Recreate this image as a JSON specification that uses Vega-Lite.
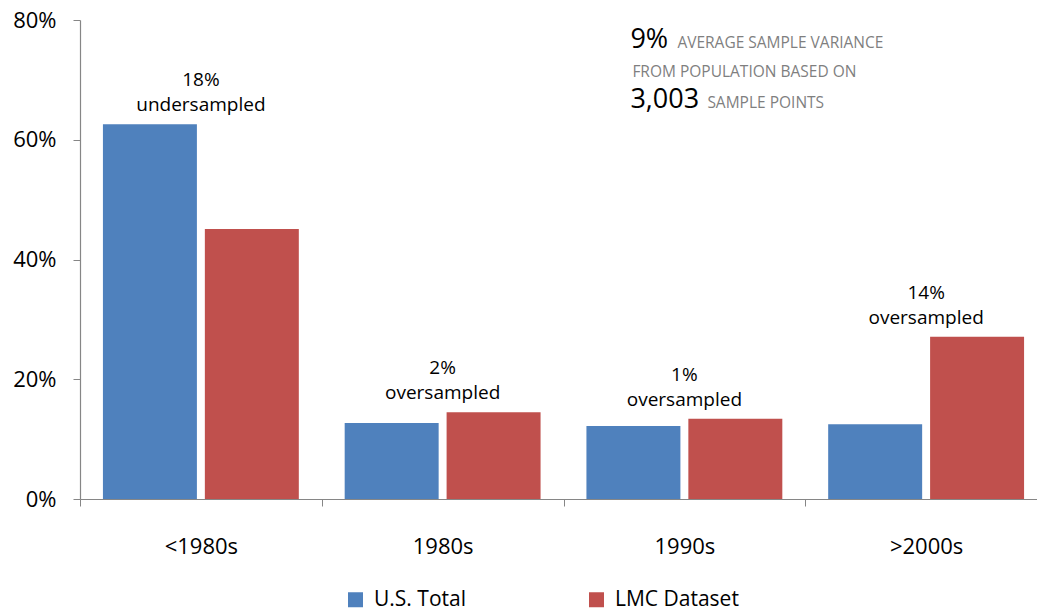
{
  "$schema": "https://vega.github.io/schema/vega-lite/v6.json",
  "width": 957,
  "height": 479,
  "autosize": {"type": "none"},
  "padding": {"left": 80, "top": 20, "right": 0, "bottom": 114},
  "background": "white",
  "config": {
    "view": {"stroke": null},
    "font": "Open Sans",
    "axis": {"labelFont": "Open Sans", "labelColor": "#000000", "domainColor": "#868686", "tickColor": "#868686", "grid": false, "title": null}
  },
  "datasets": {
    "bars": [
      {"era": "<1980s", "series": "U.S. Total", "share": 62.6},
      {"era": "<1980s", "series": "LMC Dataset", "share": 45.1},
      {"era": "1980s", "series": "U.S. Total", "share": 12.7},
      {"era": "1980s", "series": "LMC Dataset", "share": 14.5},
      {"era": "1990s", "series": "U.S. Total", "share": 12.2},
      {"era": "1990s", "series": "LMC Dataset", "share": 13.4},
      {"era": ">2000s", "series": "U.S. Total", "share": 12.5},
      {"era": ">2000s", "series": "LMC Dataset", "share": 27.1}
    ],
    "notes": [
      {"era": "<1980s", "top": 62.6, "label": "18%\nundersampled"},
      {"era": "1980s", "top": 14.5, "label": "2%\noversampled"},
      {"era": "1990s", "top": 13.4, "label": "1%\noversampled"},
      {"era": ">2000s", "top": 27.1, "label": "14%\noversampled"}
    ]
  },
  "layer": [
    {
      "data": {"name": "bars"},
      "mark": {"type": "bar"},
      "encoding": {
        "x": {
          "field": "era", "type": "nominal",
          "scale": {"domain": ["<1980s", "1980s", "1990s", ">2000s"], "range": [0, 967], "paddingInner": 0, "paddingOuter": 0},
          "axis": {"tickBand": "extent", "tickSize": 7, "labelFontSize": 22, "labelPadding": 30, "labelAngle": 0, "domainWidth": 1.2}
        },
        "xOffset": {
          "field": "series", "type": "nominal",
          "scale": {"domain": ["U.S. Total", "LMC Dataset"], "paddingInner": 0.078, "paddingOuter": 0.225}
        },
        "y": {
          "field": "share", "type": "quantitative",
          "scale": {"domain": [0, 80], "nice": false},
          "axis": {"values": [0, 20, 40, 60, 80], "labelExpr": "datum.value + '%'", "tickSize": 7, "labelFontSize": 22, "labelPadding": 17, "domainWidth": 1.2}
        },
        "color": {
          "field": "series", "type": "nominal",
          "scale": {"domain": ["U.S. Total", "LMC Dataset"], "range": ["#4F81BD", "#C0504D"]},
          "legend": {
            "orient": "none", "direction": "horizontal", "title": null,
            "legendX": 265, "legendY": 569, "padding": 0,
            "symbolType": "square", "symbolSize": 225, "symbolStrokeWidth": 0,
            "labelFont": "Open Sans", "labelFontSize": 21, "labelColor": "#000000", "labelOffset": 8,
            "columnPadding": 120, "labelLimit": 300
          }
        }
      }
    },
    {
      "data": {"name": "notes"},
      "mark": {"type": "text", "fontSize": 19, "lineBreak": "\n", "lineHeight": 25, "baseline": "bottom", "align": "center", "dy": -34, "color": "#000000"},
      "encoding": {
        "x": {"field": "era", "type": "nominal"},
        "y": {"field": "top", "type": "quantitative"},
        "text": {"field": "label"}
      }
    },
    {
      "data": {"values": [{"era": "1990s", "v": 75.3, "t": "9%"}, {"era": "1990s", "v": 65.3, "t": "3,003"}]},
      "mark": {"type": "text", "fontSize": 27, "align": "left", "baseline": "alphabetic", "dx": -54, "color": "#000000"},
      "encoding": {
        "x": {"field": "era", "type": "nominal"},
        "y": {"field": "v", "type": "quantitative"},
        "text": {"field": "t"}
      }
    },
    {
      "data": {"values": [{"era": "1990s", "v": 75.3, "t": "AVERAGE SAMPLE VARIANCE"}]},
      "mark": {"type": "text", "fontSize": 15.5, "align": "left", "baseline": "alphabetic", "dx": -7, "color": "#7F7F7F"},
      "encoding": {
        "x": {"field": "era", "type": "nominal"},
        "y": {"field": "v", "type": "quantitative"},
        "text": {"field": "t"}
      }
    },
    {
      "data": {"values": [{"era": "1990s", "v": 70.5, "t": "FROM POPULATION BASED ON"}]},
      "mark": {"type": "text", "fontSize": 15.5, "align": "left", "baseline": "alphabetic", "dx": -52, "color": "#7F7F7F"},
      "encoding": {
        "x": {"field": "era", "type": "nominal"},
        "y": {"field": "v", "type": "quantitative"},
        "text": {"field": "t"}
      }
    },
    {
      "data": {"values": [{"era": "1990s", "v": 65.3, "t": "SAMPLE POINTS"}]},
      "mark": {"type": "text", "fontSize": 15.5, "align": "left", "baseline": "alphabetic", "dx": 23, "color": "#7F7F7F"},
      "encoding": {
        "x": {"field": "era", "type": "nominal"},
        "y": {"field": "v", "type": "quantitative"},
        "text": {"field": "t"}
      }
    }
  ]
}
